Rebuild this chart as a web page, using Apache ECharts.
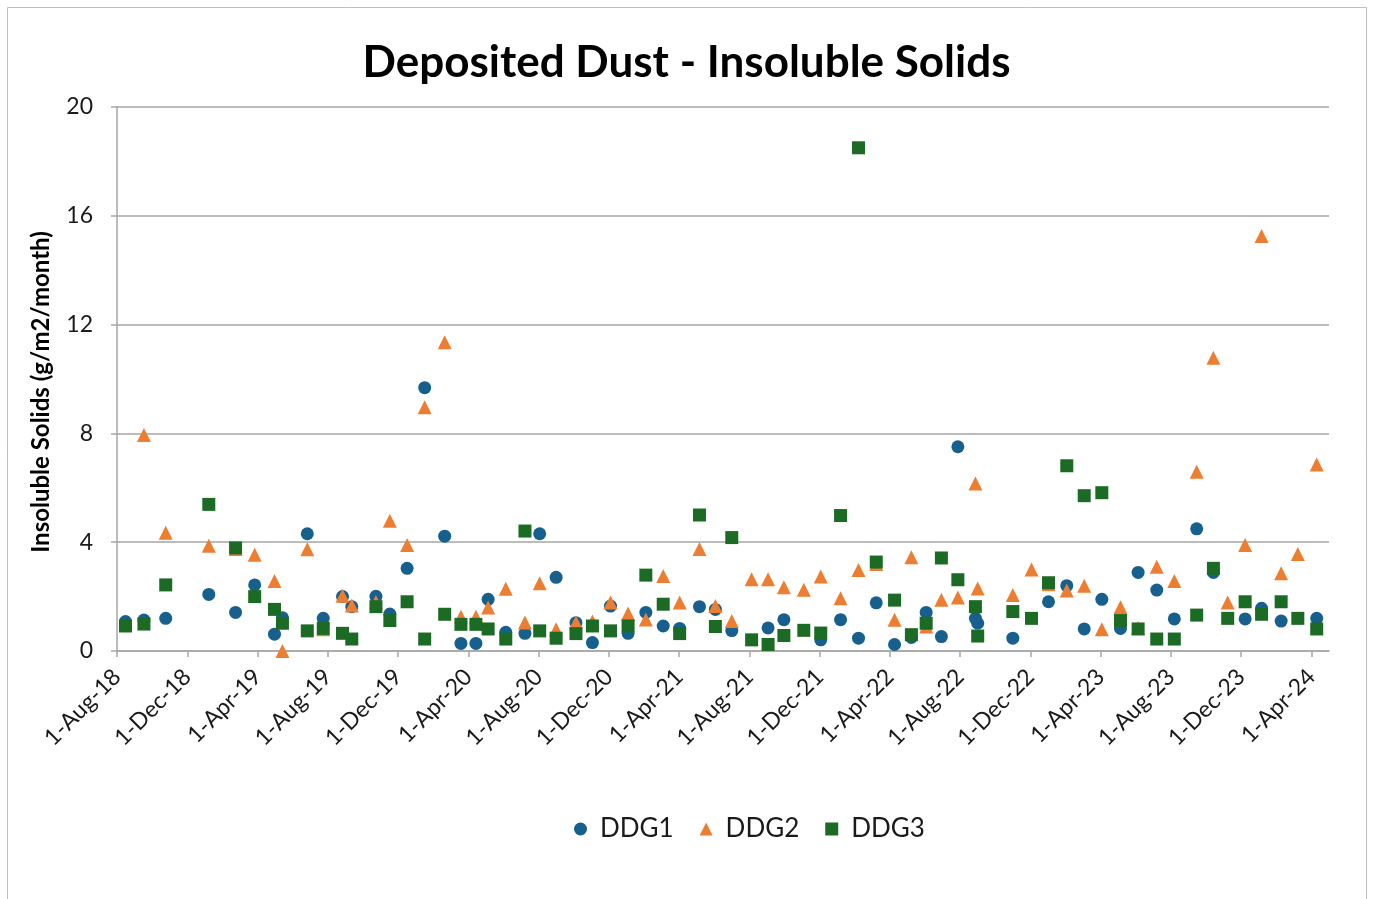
<!DOCTYPE html>
<html>
<head>
<meta charset="utf-8">
<script src="https://cdn.jsdelivr.net/npm/echarts@6/dist/echarts.min.js"></script>
<style>
  html, body { margin: 0; padding: 0; background: #fff; }
  #chart { width: 1373px; height: 899px; }
</style>
</head>
<body>
<div id="chart"></div>
<script>
// sampling dates (approx, read from the x position of each marker)
const dates = [
  "2018-08-16", "2018-09-17", "2018-10-25", "2019-01-08", "2019-02-22", "2019-03-27",
  "2019-04-30", "2019-05-14", "2019-06-26", "2019-07-24", "2019-08-27", "2019-09-12",
  "2019-10-24", "2019-11-17", "2019-12-17", "2020-01-17", "2020-02-20", "2020-03-19",
  "2020-04-14", "2020-05-05", "2020-06-05", "2020-07-08", "2020-08-03", "2020-09-01",
  "2020-10-05", "2020-11-03", "2020-12-04", "2021-01-04", "2021-02-04", "2021-03-04",
  "2021-04-02", "2021-05-06", "2021-06-03", "2021-07-01", "2021-08-05", "2021-09-03",
  "2021-09-30", "2021-11-04", "2021-12-03", "2022-01-07", "2022-02-07", "2022-03-08",
  "2022-04-09", "2022-05-08", "2022-06-03", "2022-06-29", "2022-07-28", "2022-08-28",
  "2022-09-01", "2022-11-01", "2022-12-03", "2023-01-02", "2023-02-03", "2023-03-03",
  "2023-04-03", "2023-05-05", "2023-06-05", "2023-07-07", "2023-08-07", "2023-09-15",
  "2023-10-14", "2023-11-08", "2023-12-08", "2024-01-06", "2024-02-09", "2024-03-08",
  "2024-04-10"
];

const ddg1 = [
  1.08, 1.14, 1.2, 2.08, 1.42, 2.43,
  0.62, 1.22, 4.31, 1.2, 2.0, 1.63,
  2.01, 1.36, 3.04, 9.68, 4.22, 0.28,
  0.28, 1.9, 0.69, 0.65, 4.31, 2.71,
  1.04, 0.31, 1.65, 0.65, 1.42, 0.92,
  0.83, 1.63, 1.53, 0.75, null, 0.85,
  1.15, null, 0.41, 1.15, 0.47, 1.77,
  0.24, 0.5, 1.42, 0.53, 7.51, 1.2,
  1.02, 0.47, null, 1.81, 2.4, 0.81,
  1.9, 0.83, 2.89, 2.24, 1.18, 4.49,
  2.89, null, 1.18, 1.57, 1.1, null,
  1.2
];

const ddg2 = [
  null, 7.94, 4.35, 3.87, 3.75, 3.54,
  2.57, 0, 3.74, 0.8, 2.03, 1.67,
  1.8, 4.79, 3.9, 8.96, 11.35, 1.26,
  1.26, 1.6, 2.29, 1.05, 2.49, 0.8,
  1.05, 1.08, 1.78, 1.38, 1.16, 2.76,
  1.78, 3.75, 1.65, 1.1, 2.64, 2.64,
  2.34, 2.25, 2.74, 1.94, 2.98, 3.2,
  1.15, 3.45, 0.9, 1.88, 1.97, 6.16,
  2.3, 2.06, 3.0, 2.45, 2.22, 2.4,
  0.8, 1.61, 0.85, 3.1, 2.57, 6.59,
  10.78, 1.78, 3.9, 15.26, 2.86, 3.57,
  6.86
];

const ddg3 = [
  0.92, 0.99, 2.43, 5.39, 3.79, 2.0,
  1.53, 1.02, 0.74, 0.83, 0.65, 0.44,
  1.63, 1.12, 1.81, 0.44, 1.35, 0.98,
  0.98, 0.81, 0.44, 4.41, 0.74, 0.47,
  0.64, 0.92, 0.74, 0.92, 2.79, 1.72,
  0.64, 5.0, 0.9, 4.17, 0.41, 0.24,
  0.57, 0.76, 0.66, 4.98, 18.5, 3.27,
  1.87, 0.6, 1.02, 3.42, 2.62, 1.63,
  0.55, 1.45, 1.2, 2.51, 6.81, 5.71,
  5.82, 1.12, 0.81, 0.44, 0.44, 1.32,
  3.04, 1.2, 1.81, 1.35, 1.81, 1.2,
  0.81
];

const tickLabels = [
  "1-Aug-18", "1-Dec-18", "1-Apr-19", "1-Aug-19", "1-Dec-19", "1-Apr-20",
  "1-Aug-20", "1-Dec-20", "1-Apr-21", "1-Aug-21", "1-Dec-21", "1-Apr-22",
  "1-Aug-22", "1-Dec-22", "1-Apr-23", "1-Aug-23", "1-Dec-23", "1-Apr-24"
];

// months elapsed since 1-Aug-18 (fractional)
function monthIndex(s) {
  const [y, m, d] = s.split("-").map(Number);
  const dim = new Date(y, m, 0).getDate();
  return (y - 2018) * 12 + (m - 8) + (d - 1) / dim;
}

function pairs(vals) {
  return dates.map((d, i) => [monthIndex(d), vals[i]]).filter((p) => p[1] !== null);
}

const font = "Lato, 'Open Sans', sans-serif";
const gridGray = "#a6a6a6";
const tickVals = tickLabels.map((_, i) => i * 4);

const chart = echarts.init(document.getElementById("chart"));
chart.setOption({
  animation: false,
  backgroundColor: "#fff",
  title: {
    text: "Deposited Dust - Insoluble Solids",
    left: "center",
    top: 36,
    textStyle: { fontFamily: font, fontSize: 44, fontWeight: "bold", color: "#000" }
  },
  legend: {
    top: 811,
    left: 569,
    itemWidth: 13,
    itemHeight: 13,
    itemGap: 26,
    textStyle: { fontFamily: font, fontSize: 26, color: "#1a1a1a", padding: [0, 0, 0, 8] },
    data: [
      { name: "DDG1", icon: "circle" },
      { name: "DDG2", icon: "triangle" },
      { name: "DDG3", icon: "rect" }
    ]
  },
  grid: { left: 117, right: 44, top: 107, bottom: 248, containLabel: false },
  xAxis: {
    type: "value",
    min: 0,
    max: 69,
    interval: 4,
    axisLine: { show: true, lineStyle: { color: gridGray, width: 1.5 } },
    axisTick: { show: true, length: 6, inside: false, customValues: tickVals, lineStyle: { color: gridGray, width: 1.5 } },
    splitLine: { show: false },
    axisLabel: {
      customValues: tickVals,
      rotate: 45,
      margin: 22,
      fontFamily: font,
      fontSize: 23,
      color: "#1a1a1a",
      formatter: (v) => tickLabels[Math.round(v / 4)] || ""
    }
  },
  yAxis: {
    type: "value",
    min: 0,
    max: 20,
    interval: 4,
    name: "Insoluble Solids (g/m2/month)",
    nameLocation: "middle",
    nameGap: 64,
    nameTextStyle: { fontFamily: font, fontSize: 24, fontWeight: "bold", color: "#000", padding: [0, 26, 0, 0] },
    axisLine: { show: true, lineStyle: { color: gridGray, width: 1.5 } },
    axisTick: { show: true, length: 6, lineStyle: { color: gridGray, width: 1.5 } },
    splitLine: { show: true, lineStyle: { color: gridGray, width: 1.5 } },
    axisLabel: { margin: 24, fontFamily: font, fontSize: 23, color: "#1a1a1a" }
  },
  series: [
    {
      name: "DDG1",
      type: "scatter",
      symbol: "circle",
      symbolSize: 13,
      itemStyle: { color: "#17608d", opacity: 1 },
      data: pairs(ddg1),
      z: 2
    },
    {
      name: "DDG2",
      type: "scatter",
      symbol: "triangle",
      symbolSize: 14,
      itemStyle: { color: "#ed7d31", opacity: 1 },
      data: pairs(ddg2),
      z: 3
    },
    {
      name: "DDG3",
      type: "scatter",
      symbol: "rect",
      symbolSize: 13,
      itemStyle: { color: "#1b6b25", opacity: 1 },
      data: pairs(ddg3),
      z: 4
    }
  ],
  graphic: [
    {
      type: "rect",
      shape: { x: 7.5, y: 7.5, width: 1359, height: 900 },
      style: { fill: null, stroke: "#bfbfbf", lineWidth: 1 },
      silent: true
    }
  ]
});
</script>
</body>
</html>
